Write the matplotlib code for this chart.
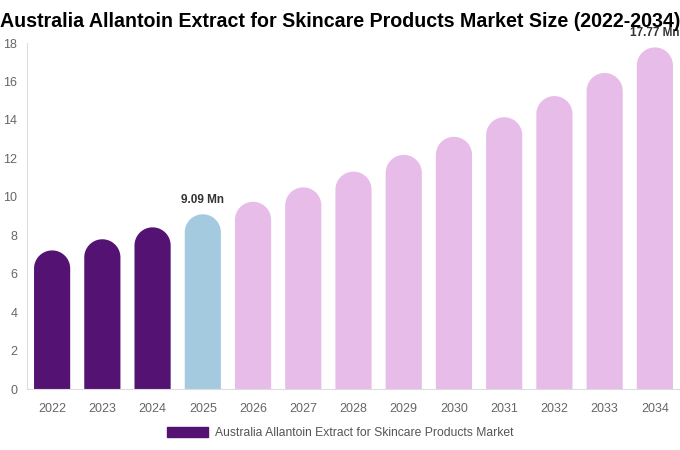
import numpy as np
import matplotlib.pyplot as plt
from matplotlib.patches import Polygon, Patch

years = ["2022", "2023", "2024", "2025", "2026", "2027", "2028",
         "2029", "2030", "2031", "2032", "2033", "2034"]
values = [7.21, 7.79, 8.41, 9.09, 9.74, 10.49, 11.31,
          12.18, 13.12, 14.14, 15.24, 16.44, 17.77]
labels = {3: "9.09 Mn", 12: "17.77 Mn"}

dark = "#541272"
blue = "#A4CADF"
pink = "#E7BCE9"
colors = [dark] * 3 + [blue] + [pink] * 9

plt.rcParams['font.family'] = ['Liberation Sans', 'DejaVu Sans']

fig = plt.figure(figsize=(6.8, 4.5), dpi=100)
ax = fig.add_axes([27 / 680, 61 / 450, 653 / 680, 346 / 450])
ax.set_xlim(-0.5, len(years) - 0.5)
ax.set_ylim(0, 18)

w = 0.72
# cap height in data units so the top is a half circle in pixels
px_per_x = 653 / len(years)
px_per_y = 346 / 18
r_px = w * px_per_x / 2
r_y = r_px / px_per_y

theta = np.linspace(0, np.pi, 40)
for i, v in enumerate(values):
    cx, cy = i, v - r_y
    arc = np.column_stack([cx + (w / 2) * np.cos(theta), cy + r_y * np.sin(theta)])
    pts = np.vstack([[cx + w / 2, 0], arc, [cx - w / 2, 0]])
    ax.add_patch(Polygon(pts, closed=True, facecolor=colors[i], edgecolor="none"))

for i, t in labels.items():
    ax.text(i, values[i] + 0.45, t, ha="center", va="bottom", fontsize=8.5,
            fontweight="bold", color="#333333")

ax.set_xticks(range(len(years)))
ax.set_xticklabels(years)
ax.set_yticks(range(0, 19, 2))
ax.tick_params(axis="both", length=0, labelsize=9, colors="#666666")
ax.tick_params(axis="x", pad=10)
ax.tick_params(axis="y", pad=7)
for s in ["top", "right"]:
    ax.spines[s].set_visible(False)
for s in ["left", "bottom"]:
    ax.spines[s].set_color("#dddddd")

fig.text(0.0, 0.953, "Australia Allantoin Extract for Skincare Products Market Size (2022-2034)",
         fontsize=14.1, fontweight="bold", ha="left", va="center", color="#000000")

fig.legend(handles=[Patch(color=dark, label="Australia Allantoin Extract for Skincare Products Market")],
           loc="center", bbox_to_anchor=(0.5, 0.037), frameon=False, fontsize=8.7,
           handlelength=3.4, handleheight=0.9, handletextpad=0.6, labelcolor="#555555")

fig.savefig("out.png", dpi=100)
